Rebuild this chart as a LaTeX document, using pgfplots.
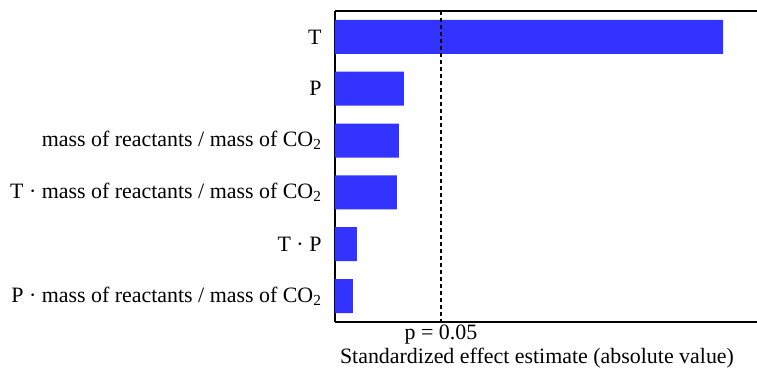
\documentclass[border=0pt]{standalone}
\usepackage{fontspec}
\setmainfont{Liberation Serif}
\usepackage{pgfplots}
\pgfplotsset{compat=1.18}
\definecolor{barblue}{RGB}{51,51,255}
\begin{document}
\begin{tikzpicture}[font=\fontsize{22}{26}\selectfont]
\begin{axis}[
  name=ax,
  scale only axis,
  width=422bp, height=311bp,
  xmin=0, xmax=8.44,
  ymin=-0.5, ymax=5.5,
  y dir=reverse,
  axis x line*=box,
  axis y line*=left,
  axis line style={line width=1.6bp},
  bar width=34bp,
  ytick={0,1,2,3,4,5},
  yticklabels={T, P, mass of reactants / mass of CO\textsubscript{2},
    T · mass of reactants / mass of CO\textsubscript{2}, T · P,
    P · mass of reactants / mass of CO\textsubscript{2}},
  yticklabel style={xshift=-10bp},
  xtick={2.12},
  xticklabels={p = 0.05},
  major x tick style={draw=none},
  tick align=inside,
  major tick length=6bp,
  major y tick style={line width=1.2bp},
  xticklabel style={yshift=1bp},
  xlabel={Standardized effect estimate (absolute value)},
  xlabel style={yshift=3bp, xshift=-9bp},
]
\addplot[xbar, fill=barblue, draw=none]
  coordinates {(7.76,0) (1.38,1) (1.28,2) (1.24,3) (0.44,4) (0.36,5)};
\addplot[black, line width=1.2bp, dash pattern=on 4bp off 3bp]
  coordinates {(2.12,-0.5) (2.12,5.5)};
\end{axis}
\pgfresetboundingbox
\path ([shift={(-335bp,-47bp)}]ax.south west) rectangle ([shift={(0bp,11bp)}]ax.north east);
\end{tikzpicture}
\end{document}
